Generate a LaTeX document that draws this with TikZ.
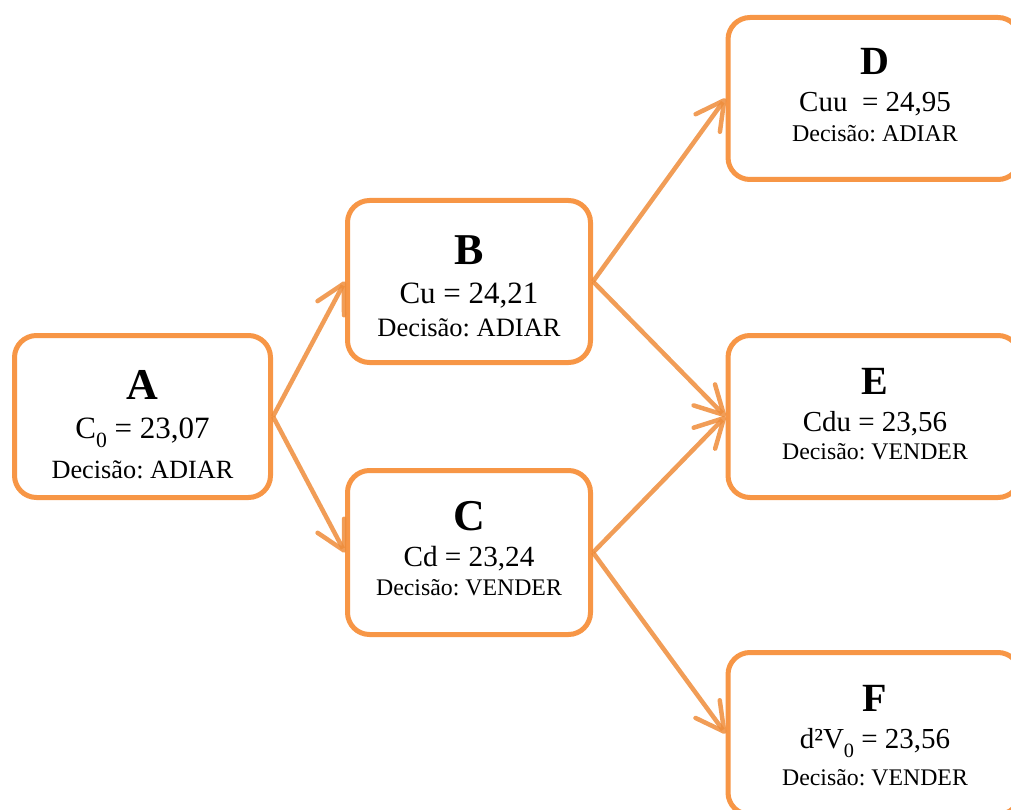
\documentclass[tikz,border=0pt]{standalone}
\usepackage{fontspec}
\setmainfont{Liberation Serif}
\usetikzlibrary{arrows.meta,positioning}
\definecolor{boxorange}{RGB}{247,150,70}
\definecolor{arroworange}{RGB}{238,140,58}
\newcommand{\subidx}[1]{\raisebox{-.32em}{\scalebox{.7}{#1}}}
\frenchspacing
\tikzset{
  nodebox/.style={draw=boxorange, line width=5pt, rounded corners=22pt, fill=white,
                  minimum height=162pt, inner sep=0pt},
  boxletter/.style={anchor=base, inner sep=0pt, font=\fontsize{#1}{#1}\selectfont\bfseries},
  valuetxt/.style={anchor=base, inner sep=0pt, font=\fontsize{#1}{#1}\selectfont},
  branch/.style={-{Straight Barb[length=28pt,width=30pt,round]}, draw=arroworange,
                 line width=4.5pt, opacity=.85}
}
\begin{document}
\begin{tikzpicture}[x=1pt,y=-1pt]
   \useasboundingbox (0,0) rectangle (1011,810);
   \clip (0,0) rectangle (1011,810);
   % boxes
   \node[nodebox, minimum width=256pt] (A) at (142.5,416.5) {};
   \node[nodebox, minimum width=243pt] (B) at (469,281.5) {};
   \node[nodebox, minimum width=243pt, minimum height=164pt] (C) at (469,552.5) {};
   \node[nodebox, minimum width=292pt] (D) at (874,98.5) {};
   \node[nodebox, minimum width=292pt] (E) at (874,416.5) {};
   \node[nodebox, minimum width=292pt] (F) at (874,733.5) {};
   % texts
   \node[boxletter=44] (A-name) at (142.5,399) {A};
   \node[valuetxt=31] (A-value) at (142.5,438) {C\subidx{0} = 23,07};
   \node[valuetxt=26.3] (A-rule) at (142.5,478) {Decisão: ADIAR};
   \node[boxletter=44] (B-name) at (469,264) {B};
   \node[valuetxt=31] (B-value) at (469,303) {Cu = 24,21};
   \node[valuetxt=26.5] (B-rule) at (469,336) {Decisão: ADIAR};
   \node[boxletter=44] (C-name) at (469,530) {C};
   \node[valuetxt=29.2] (C-value) at (469,566) {Cd = 23,24};
   \node[valuetxt=23.8] (C-rule) at (469,595) {Decisão: VENDER};
   \node[boxletter=40] (D-name) at (875,75) {D};
   \node[valuetxt=29] (D-value) at (875,112) {Cuu~ = 24,95};
   \node[valuetxt=24] (D-rule) at (875,142) {Decisão: ADIAR};
   \node[boxletter=40] (E-name) at (875,394) {E};
   \node[valuetxt=29] (E-value) at (875,431) {Cdu = 23,56};
   \node[valuetxt=23.8] (E-rule) at (875,459) {Decisão: VENDER};
   \node[boxletter=40] (F-name) at (875,711) {F};
   \node[valuetxt=29] (F-value) at (875,748) {d²V\subidx{0} = 23,56};
   \node[valuetxt=23.8] (F-rule) at (875,785) {Decisão: VENDER};
   % arrows
   \draw[branch] (A.east) -- (B.west);
   \draw[branch] (A.east) -- (C.west);
   \draw[branch] (B.east) -- (D.west);
   \draw[branch] (B.east) -- (E.west);
   \draw[branch] (C.east) -- (E.west);
   \draw[branch] (C.east) -- (F.west);
\end{tikzpicture}
\end{document}
